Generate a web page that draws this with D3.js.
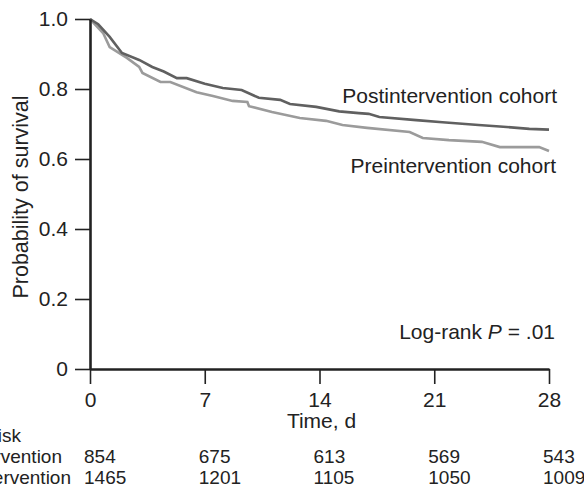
<!DOCTYPE html>
<html>
<head>
<meta charset="utf-8">
<script src="https://cdn.jsdelivr.net/npm/d3@7"></script>
<style>
  body { margin: 0; background: #fff; }
  svg { display: block; font-family: 'Liberation Sans', Arial, Helvetica, sans-serif; }
  .axis path, .axis line { stroke: #222; }
  .axis text { fill: #222; font-size: 21px; font-family: 'Liberation Sans', Arial, sans-serif; }
</style>
</head>
<body>
<div id="chart"></div>
<script>
// Kaplan-Meier estimates: [day, survival]
const postCohort = [
  [0, 1.0], [0.5, 0.985], [1.2, 0.949], [1.95, 0.903], [3.0, 0.883], [3.8, 0.863],
  [4.5, 0.85], [5.3, 0.831], [5.9, 0.831], [7.0, 0.815], [8.1, 0.803], [9.25, 0.797],
  [10.3, 0.775], [11.6, 0.769], [12.2, 0.757], [13.8, 0.749], [15.2, 0.736], [16.4, 0.731],
  [17.0, 0.729], [17.65, 0.72], [19.9, 0.711], [21.5, 0.705], [23.7, 0.697], [25.0, 0.693],
  [26.8, 0.686], [28.0, 0.684],
];
const preCohort = [
  [0, 1.0], [0.8, 0.96], [1.2, 0.92], [2.25, 0.889], [3.0, 0.863], [3.2, 0.846],
  [4.3, 0.82], [4.9, 0.82], [6.5, 0.791], [7.5, 0.78], [8.7, 0.766], [9.6, 0.763],
  [9.7, 0.751], [11.1, 0.734], [12.8, 0.717], [14.4, 0.709], [15.4, 0.697], [16.9, 0.689],
  [19.5, 0.677], [20.3, 0.66], [21.9, 0.654], [23.9, 0.649], [25.0, 0.634], [27.4, 0.634],
  [28.0, 0.623],
];

const xTicks = [0, 7, 14, 21, 28];
const yTicks = [0, 0.2, 0.4, 0.6, 0.8, 1.0];
const yTickLabels = ['0', '0.2', '0.4', '0.6', '0.8', '1.0'];

const riskTimes = [0, 7, 14, 21, 28];
const postAtRisk = [854, 675, 613, 569, 543];
const preAtRisk = [1465, 1201, 1105, 1050, 1009];

const margin = { top: 19, left: 90 };
const width = 459;
const height = 350;

const xScale = d3.scaleLinear().domain([0, 28]).range([0, width]);
const yScale = d3.scaleLinear().domain([0, 1]).range([height, 0]);

const svg = d3.select('#chart').append('svg')
  .attr('width', 584)
  .attr('height', 485);

const g = svg.append('g')
  .attr('transform', `translate(${margin.left},${margin.top})`);

const line = d3.line()
  .x(d => xScale(d[0]))
  .y(d => yScale(d[1]));

// survival curves
g.append('path')
  .attr('d', line(preCohort))
  .attr('fill', 'none')
  .attr('stroke', '#9b9b9b')
  .attr('stroke-width', 2.6);

g.append('path')
  .attr('d', line(postCohort))
  .attr('fill', 'none')
  .attr('stroke', '#606060')
  .attr('stroke-width', 2.6);

// axes
const yAxis = d3.axisLeft(yScale)
  .tickValues(yTicks)
  .tickFormat((d, i) => yTickLabels[i])
  .tickSize(15)
  .tickPadding(7)
  .tickSizeOuter(0);

const xAxis = d3.axisBottom(xScale)
  .tickValues(xTicks)
  .tickSize(15)
  .tickPadding(8)
  .tickSizeOuter(0);

const yG = g.append('g').attr('class', 'axis').call(yAxis);
const xG = g.append('g').attr('class', 'axis')
  .attr('transform', `translate(0,${height})`)
  .call(xAxis);

yG.select('.domain').attr('stroke-width', 2.6);
xG.select('.domain').attr('stroke-width', 2.6);
yG.selectAll('.tick line').attr('stroke-width', 1.6);
xG.selectAll('.tick line').attr('stroke-width', 1.6);

// axis titles
g.append('text')
  .attr('transform', `translate(-62,${height / 2 + 3}) rotate(-90)`)
  .attr('text-anchor', 'middle')
  .style('font-size', '21.5px')
  .attr('fill', '#222')
  .text('Probability of survival');

g.append('text')
  .attr('x', xScale(14) + 2)
  .attr('y', height + 59)
  .attr('text-anchor', 'middle')
  .style('font-size', '21px')
  .attr('fill', '#222')
  .text('Time, d');

// curve labels
g.append('text')
  .attr('x', 467)
  .attr('y', 84)
  .attr('text-anchor', 'end')
  .style('font-size', '21px')
  .attr('fill', '#222')
  .text('Postintervention cohort');

g.append('text')
  .attr('x', 466)
  .attr('y', 154)
  .attr('text-anchor', 'end')
  .style('font-size', '21px')
  .attr('fill', '#222')
  .text('Preintervention cohort');

const pLabel = g.append('text')
  .attr('x', 465)
  .attr('y', 320)
  .attr('text-anchor', 'end')
  .style('font-size', '21px')
  .attr('fill', '#222');
pLabel.append('tspan').text('Log-rank ');
pLabel.append('tspan').style('font-style', 'italic').text('P');
pLabel.append('tspan').text(' = .01');

// number at risk table (its row labels run off the left edge, as in the source figure)
const table = svg.append('g').style('font-size', '19px').attr('fill', '#222');

table.append('text').attr('x', 21).attr('y', 442).attr('text-anchor', 'end').text('No. at risk');
table.append('text').attr('x', 62).attr('y', 463).attr('text-anchor', 'end').text('Postintervention');
table.append('text').attr('x', 71).attr('y', 484).attr('text-anchor', 'end').text('Preintervention');

table.selectAll('.post-n')
  .data(postAtRisk)
  .enter().append('text')
  .attr('class', 'post-n')
  .attr('x', (d, i) => margin.left + xScale(riskTimes[i]) - 6)
  .attr('y', 463)
  .text(d => d);

table.selectAll('.pre-n')
  .data(preAtRisk)
  .enter().append('text')
  .attr('class', 'pre-n')
  .attr('x', (d, i) => margin.left + xScale(riskTimes[i]) - 6)
  .attr('y', 484)
  .text(d => d);
</script>
</body>
</html>
